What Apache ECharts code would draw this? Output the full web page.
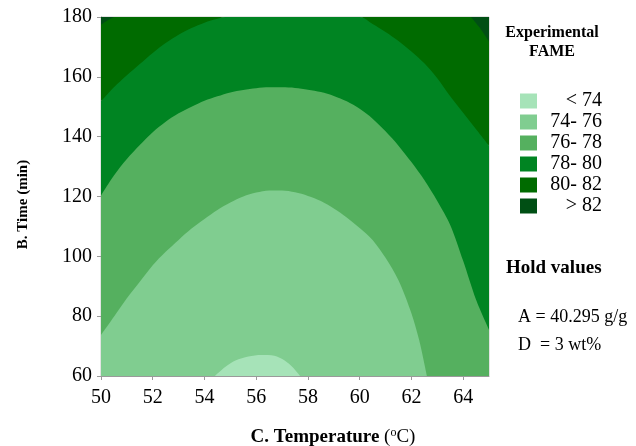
<!DOCTYPE html>
<html>
<head>
<meta charset="utf-8">
<script src="https://cdn.jsdelivr.net/npm/echarts@6/dist/echarts.min.js"></script>
<style>
  html, body { margin: 0; padding: 0; background: #fff; }
</style>
</head>
<body>
<div id="main" style="width:636px; height:446px"></div>
<script>
  // tick labels
  var tempTicks = [50, 52, 54, 56, 58, 60, 62, 64];
  var timeTicks = [60, 80, 100, 120, 140, 160, 180];

  // contour levels (legend order, top to bottom)
  var levelNames = ["< 74", "74- 76", "76- 78", "78- 80", "80- 82", "> 82"];

  // contour boundaries: [temperature, time]
  // between < 74 and 74-76
  var edge74 = [[54.4, 60], [54.8, 63], [55.2, 65.2], [55.7, 66.5], [56.2, 67], [56.7, 66.8],
    [57.1, 65.2], [57.4, 63], [57.7, 60]];
  // between 74-76 and 76-78
  var edge76 = [[50, 73.7], [50.5, 79.8], [51, 86], [51.5, 91.5], [52, 97], [52.5, 101.5],
    [53, 105.5], [53.5, 109.3], [54, 112.5], [54.5, 115.5], [55, 118], [55.5, 120],
    [56, 121.3], [56.5, 122], [57, 122], [57.5, 121.4], [58, 120.2], [58.5, 118.5],
    [59, 116], [59.5, 113], [60, 109.5], [60.5, 105.5], [61, 99.5], [61.5, 92],
    [62, 81], [62.3, 72], [62.6, 60]];
  // between 76-78 and 78-80
  var edge78 = [[50, 120.3], [50.5, 127], [51, 132.5], [51.5, 137.2], [52, 141.5],
    [52.5, 145], [53, 147.8], [53.5, 150], [54, 152], [54.5, 153.5], [55, 154.8],
    [55.5, 155.6], [56, 156.2], [56.5, 156.5], [57, 156.5], [57.5, 156.3], [58, 155.7],
    [58.5, 154.9], [59, 153.6], [59.5, 151.8], [60, 149.3], [60.5, 146], [61, 141.8],
    [61.5, 137], [62, 131.5], [62.5, 125.5], [63, 118.5], [63.5, 110.5], [64, 98.5],
    [64.5, 85.5], [65, 75.5]];
  // between 78-80 and 80-82
  var edge80 = [[50, 151.8], [50.5, 156.5], [51, 160.5], [51.5, 164.3], [52, 168],
    [52.5, 171.3], [53, 174.1], [53.5, 176.3], [54, 178.1], [54.5, 179.4], [54.8, 180],
    [60, 180], [60.5, 177.7], [61, 175], [61.5, 172], [62, 168.5], [62.5, 164.5],
    [63, 159.5], [63.5, 153.5], [64, 148], [64.5, 142.5], [65, 137]];
  // between 80-82 and > 82 (two corners)
  var edge82Left = [[50, 177.4], [50.25, 178.8], [50.5, 180]];
  var edge82Right = [[64.3, 180], [64.65, 176.3], [65, 171.8]];

  var palette = {
    "< 74": "#a6e3b8",
    "74- 76": "#80cd90",
    "76- 78": "#55b05f",
    "78- 80": "#008422",
    "80- 82": "#006b00",
    "> 82": "#004f14",
  };

  var serif = "Liberation Serif";

  function band(name, data, origin) {
    var c = palette[name];
    return {
      name: name,
      type: "line",
      data: data,
      smooth: 0.3,
      showSymbol: false,
      silent: true,
      itemStyle: { color: c },
      lineStyle: { color: c, width: 0 },
      areaStyle: { color: c, opacity: 1, origin: origin },
    };
  }

  var myChart = echarts.init(document.getElementById("main"));
  var option = {
    animation: false,
    grid: {
      left: 101,
      right: 147,
      top: 17,
      bottom: 70,
      outerBoundsMode: "none",
      show: true,
      backgroundColor: palette["80- 82"],
      borderColor: "#c8c8c8",
      borderWidth: 1,
    },
    legend: {
      data: levelNames,
      orient: "vertical",
      left: 515,
      top: 86,
      icon: "rect",
      itemWidth: 17,
      itemHeight: 15,
      itemGap: 1,
      selectedMode: false,
      formatter: function (name) {
        return "{t|" + name + "}";
      },
      textStyle: {
        fontFamily: serif,
        fontSize: 20,
        color: "#000",
        rich: {
          t: { width: 60, align: "right", fontFamily: serif, fontSize: 20, lineHeight: 20, color: "#000" },
        },
      },
    },
    xAxis: {
      type: "value",
      min: 50,
      max: 65,
      interval: 2,
      name: "{b|C. Temperature }{n|(}{s|o}{n|C)}",
      nameLocation: "middle",
      nameGap: 51,
      nameTextStyle: {
        fontFamily: serif,
        fontSize: 19,
        color: "#000",
        padding: [0, 0, 0, 76],
        rich: {
          b: { fontFamily: serif, fontSize: 19, fontWeight: "bold", color: "#000" },
          n: { fontFamily: serif, fontSize: 19, color: "#000" },
          s: { fontFamily: serif, fontSize: 12, verticalAlign: "top", padding: [0, 0, 8, 0], color: "#000" },
        },
      },
      splitLine: { show: false },
      axisLine: { lineStyle: { color: "#9a9a9a" } },
      axisTick: { length: 4, lineStyle: { color: "#9a9a9a" }, customValues: tempTicks },
      axisLabel: {
        customValues: tempTicks,
        margin: 12,
        fontFamily: serif,
        fontSize: 20,
        color: "#000",
      },
    },
    yAxis: {
      type: "value",
      min: 60,
      max: 180,
      interval: 20,
      name: "B. Time (min)",
      nameLocation: "middle",
      nameGap: 70,
      nameTextStyle: {
        fontFamily: serif,
        fontSize: 15,
        fontWeight: "bold",
        color: "#000",
        padding: [0, 16, 0, 0],
      },
      splitLine: { show: false },
      axisLine: { show: true, lineStyle: { color: "#9a9a9a" } },
      axisTick: { show: true, length: 4, lineStyle: { color: "#9a9a9a" } },
      axisLabel: {
        margin: 9,
        fontFamily: serif,
        fontSize: 20,
        color: "#000",
        formatter: function (v) {
          return timeTicks.indexOf(v) >= 0 ? String(v) : "";
        },
      },
    },
    graphic: [
      {
        type: "text",
        x: 552,
        y: 23,
        style: {
          text: "Experimental\nFAME",
          align: "center",
          fontFamily: serif,
          fontSize: 16,
          fontWeight: "bold",
          lineHeight: 19,
          fill: "#000",
        },
      },
      {
        type: "text",
        left: 506,
        top: 259,
        style: { text: "Hold values", fontFamily: serif, fontSize: 19, fontWeight: "bold", fill: "#000" },
      },
      {
        type: "text",
        left: 518,
        top: 308,
        style: { text: "A = 40.295 g/g", fontFamily: serif, fontSize: 18, fill: "#000" },
      },
      {
        type: "text",
        left: 518,
        top: 336,
        style: { text: "D  = 3 wt%", fontFamily: serif, fontSize: 18, fill: "#000" },
      },
    ],
    series: [
      band("80- 82", edge80, "end"),
      band("78- 80", edge80, "start"),
      band("76- 78", edge78, "start"),
      band("74- 76", edge76, "start"),
      band("< 74", edge74, "start"),
      band("> 82", edge82Left, "end"),
      band("> 82", edge82Right, "end"),
    ],
  };
  myChart.setOption(option);
</script>
</body>
</html>
